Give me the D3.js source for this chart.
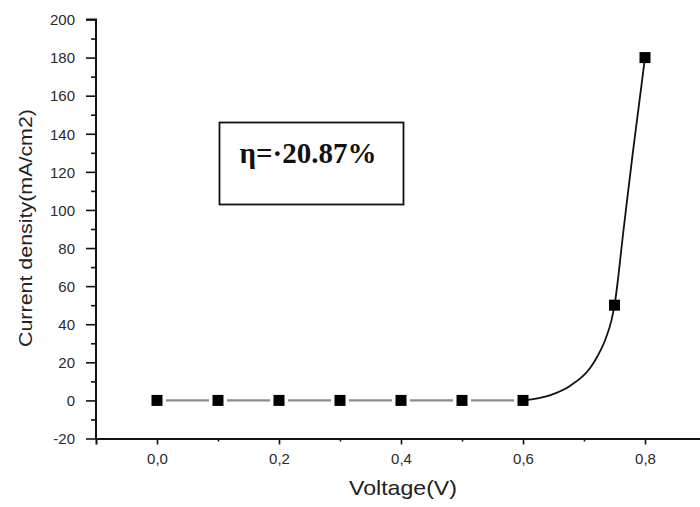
<!DOCTYPE html>
<html><head><meta charset="utf-8">
<script src="https://cdn.jsdelivr.net/npm/d3@7"></script>
<style>html,body{margin:0;padding:0;background:#fff;}svg{display:block;}</style>
</head><body>
<script>
// Data
const voltage = [0, 0.1, 0.2, 0.3, 0.4, 0.5, 0.6, 0.75, 0.8];
const current = [0, 0, 0, 0, 0, 0, 0, 50, 180];
// smooth fitted curve
const fitVoltage = [0.6, 0.645, 0.677, 0.71, 0.72, 0.735, 0.745, 0.75, 0.765, 0.78, 0.8];
const fitCurrent = [0, 2.8, 7.6, 17, 22, 32, 42, 50, 90, 130, 180];
const xTickValues = [0, 0.2, 0.4, 0.6, 0.8];
const xTickLabels = ["0,0", "0,2", "0,4", "0,6", "0,8"];
const xMinorValues = [0.1, 0.3, 0.5, 0.7];
const yTickValues = [-20, 0, 20, 40, 60, 80, 100, 120, 140, 160, 180, 200];
const yTickLabels = ["-20", "0", "20", "40", "60", "80", "100", "120", "140", "160", "180", "200"];
const yMinorValues = [-10, 10, 30, 50, 70, 90, 110, 130, 150, 170, 190];
const annotation = "η=·20.87%";
const xTitle = "Voltage(V)";
const yTitle = "Current density(mA/cm2)";

const W = 700, H = 507;
const svg = d3.select("body").append("svg").attr("width", W).attr("height", H);
svg.append("rect").attr("width", W).attr("height", H).attr("fill", "#fff");

const x = d3.scaleLinear().domain([-0.1, 0.9]).range([96, 706]);
const y = d3.scaleLinear().domain([-20, 200]).range([438.5, 19.5]);

// axes
const xAxis = svg.append("g").attr("transform", `translate(0,${y(-20)})`)
  .call(d3.axisBottom(x).tickValues(xTickValues).tickSize(6).tickPadding(9)
    .tickFormat((d, i) => xTickLabels[i]));
svg.append("g").attr("transform", `translate(0,${y(-20)})`)
  .call(d3.axisBottom(x).tickValues(xMinorValues).tickSize(3).tickFormat(""))
  .select(".domain").remove();
const yAxis = svg.append("g").attr("transform", `translate(${x(-0.1)},0)`)
  .call(d3.axisLeft(y).tickValues(yTickValues).tickSize(10).tickPadding(11)
    .tickFormat((d, i) => yTickLabels[i]));
svg.append("g").attr("transform", `translate(${x(-0.1)},0)`)
  .call(d3.axisLeft(y).tickValues(yMinorValues).tickSize(5).tickFormat(""))
  .select(".domain").remove();

svg.selectAll(".domain").attr("stroke", "#111").attr("stroke-width", 2);
svg.selectAll(".tick line").attr("stroke", "#111").attr("stroke-width", 1.6);
svg.selectAll(".tick text").attr("font-family", "Liberation Sans, Arial, sans-serif")
  .attr("font-size", 15).attr("fill", "#2a2a2a");
yAxis.selectAll(".tick text").attr("dy", "0.35em");
yAxis.select(".domain").attr("d", `M-10,${y(200)}H0V${y(-20)}`);

// axis titles
svg.append("text").attr("x", 403).attr("y", 495).attr("text-anchor", "middle")
  .attr("font-family", "Liberation Sans, Arial, sans-serif").attr("font-size", 21)
  .attr("textLength", 108).attr("lengthAdjust", "spacingAndGlyphs")
  .attr("fill", "#222").text(xTitle);
svg.append("text").attr("transform", "translate(32,228) rotate(-90)")
  .attr("text-anchor", "middle")
  .attr("font-family", "Liberation Sans, Arial, sans-serif").attr("font-size", 18)
  .attr("textLength", 238).attr("lengthAdjust", "spacingAndGlyphs")
  .attr("fill", "#222").text(yTitle);

// flat gray segments between markers
const pts = voltage.map((v, i) => ({v, c: current[i]}));
const segs = [];
for (let i = 0; i < pts.length - 1; i++) {
  if (pts[i + 1].v <= fitVoltage[0]) segs.push([pts[i], pts[i + 1]]);
}
svg.append("g").selectAll("line").data(segs).join("line")
  .attr("x1", d => x(d[0].v) + 9).attr("x2", d => x(d[1].v) - 9)
  .attr("y1", d => y(d[0].c)).attr("y2", d => y(d[1].c))
  .attr("stroke", "#8c8c8c").attr("stroke-width", 2.2);

// fitted curve
const fit = fitVoltage.map((v, i) => ({v, c: fitCurrent[i]}));
svg.append("path").datum(fit)
  .attr("d", d3.line().x(d => x(d.v)).y(d => y(d.c)).curve(d3.curveMonotoneX))
  .attr("fill", "none").attr("stroke", "#111").attr("stroke-width", 1.8);

// markers
const ms = 11;
svg.append("g").selectAll("rect").data(pts).join("rect")
  .attr("x", d => x(d.v) - ms / 2).attr("y", d => y(d.c) - ms / 2)
  .attr("width", ms).attr("height", ms).attr("fill", "#000");

// annotation box
svg.append("rect").attr("x", 219.5).attr("y", 122.5).attr("width", 184).attr("height", 82)
  .attr("fill", "#fff").attr("stroke", "#111").attr("stroke-width", 1.8);
svg.append("text").attr("x", 308).attr("y", 163).attr("text-anchor", "middle")
  .attr("font-family", "Liberation Serif, Times New Roman, serif").attr("font-weight", "bold")
  .attr("font-size", 29).attr("fill", "#111").text(annotation);
</script>
</body></html>
